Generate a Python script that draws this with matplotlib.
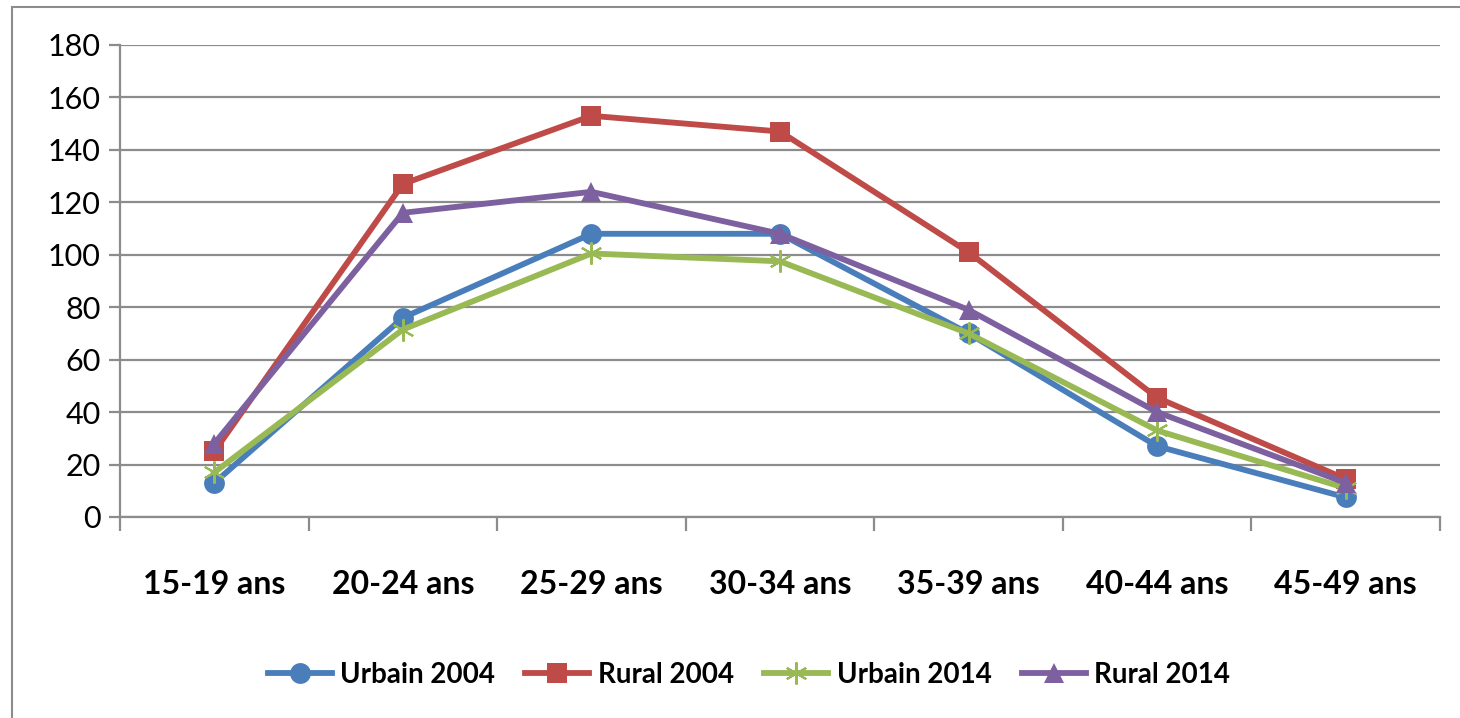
import matplotlib.pyplot as plt
from matplotlib.patches import Rectangle
import numpy as np

age_groups = ["15-19 ans", "20-24 ans", "25-29 ans", "30-34 ans",
              "35-39 ans", "40-44 ans", "45-49 ans"]
urbain_2004 = [13, 76, 108, 108, 70, 27, 7.5]
rural_2004 = [25, 127, 153, 147, 101, 45.5, 14.5]
urbain_2014 = [17, 71.5, 100.5, 97.5, 70, 33, 11]
rural_2014 = [28, 116, 124, 108, 79, 40, 13]

plt.rcParams['font.family'] = ['Lato', 'DejaVu Sans']

fig = plt.figure(figsize=(14.6, 7.18), dpi=100)
ax = fig.add_axes([120 / 1460, 1 - 517 / 718, 1320 / 1460, 472 / 718])

# outer chart frame
fig.patches.append(Rectangle((12 / 1460, -0.01), 1.1, 1 - 7 / 718 + 0.01,
                             transform=fig.transFigure, fill=False,
                             edgecolor="#8c8c8c", linewidth=1.5))

x = np.arange(len(age_groups))
series = [
    ("Urbain 2004", urbain_2004, "#4A7EBB", "o", 15),
    ("Rural 2004", rural_2004, "#BE4B48", "s", 14),
    ("Urbain 2014", urbain_2014, "#98B954", (6, 2, 0), 16),
    ("Rural 2014", rural_2014, "#7D60A0", "^", 15),
]
for label, vals, color, marker, ms in series:
    is_star = isinstance(marker, tuple)
    ax.plot(x, vals, color=color, linewidth=4.2, marker=marker, markersize=ms,
            markeredgewidth=1.5 if is_star else 0, markeredgecolor=color,
            label=label, zorder=3)

ax.set_xlim(-0.5, len(age_groups) - 0.5)
ax.set_ylim(0, 180)
ax.set_yticks(range(0, 181, 20))
ax.yaxis.grid(True, color="#8c8c8c", linewidth=1.6)
ax.set_axisbelow(True)

ax.set_xticks(np.arange(-0.5, len(age_groups), 1.0))
ax.set_xticklabels([])
ax.set_xticks(x, minor=True)
ax.set_xticklabels(age_groups, minor=True, fontsize=23, fontweight="bold")
ax.tick_params(axis="x", which="major", length=10, width=1.6, color="#8c8c8c")
ax.tick_params(axis="x", which="minor", length=0, pad=38)
ax.tick_params(axis="y", length=8, width=1.6, color="#8c8c8c", labelsize=22, pad=6)

for side in ["top", "right"]:
    ax.spines[side].set_visible(False)
for side in ["left", "bottom"]:
    ax.spines[side].set_color("#8c8c8c")
    ax.spines[side].set_linewidth(1.6)

leg = fig.legend(loc="center", bbox_to_anchor=(0.513, 1 - 675 / 718), ncol=4,
                 frameon=False, prop={"size": 20, "weight": "bold"},
                 handlelength=2.3, columnspacing=1.1, handletextpad=0.3)

fig.savefig("out.png", dpi=100)
